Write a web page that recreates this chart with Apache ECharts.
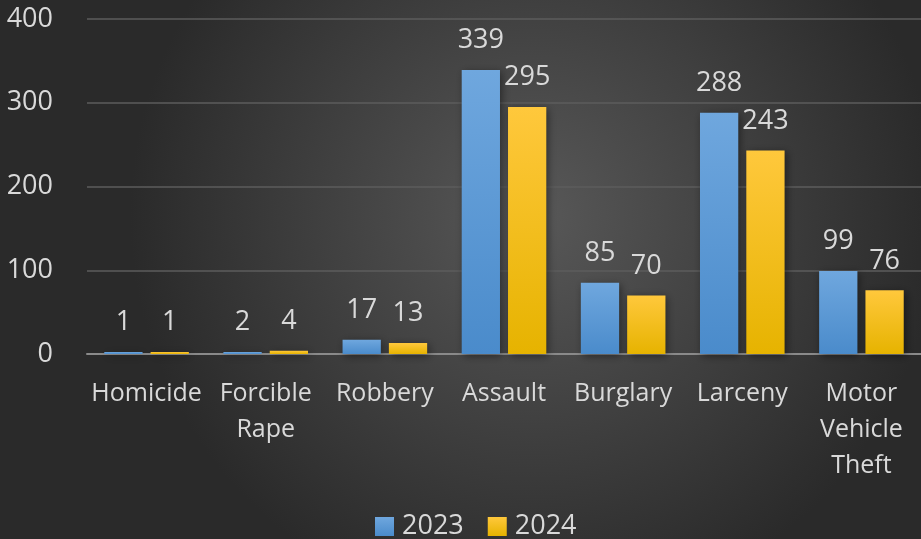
<!DOCTYPE html>
<html>
<head>
<meta charset="utf-8">
<script src="https://cdn.jsdelivr.net/npm/echarts@6/dist/echarts.min.js"></script>
<style>
html,body{margin:0;padding:0;}
#main{width:921px;height:539px;}
</style>
</head>
<body>
<div id="main"></div>
<script>
const categories = ['Homicide', 'Forcible\nRape', 'Robbery', 'Assault', 'Burglary', 'Larceny', 'Motor\nVehicle\nTheft']
const values2023 = [1, 2, 17, 339, 85, 288, 99]
const values2024 = [1, 4, 13, 295, 70, 243, 76]
const yTicks = [0, 100, 200, 300, 400]

const font = '"Open Sans", "Noto Sans", sans-serif'
const textColor = '#d9d9d9'
const fs = 25     // category text
const numFs = 27  // numbers

function grad(top, bottom) {
    return new echarts.graphic.LinearGradient(0, 0, 0, 1, [
        {offset: 0, color: top},
        {offset: 1, color: bottom}
    ])
}

const chart = echarts.init(document.getElementById('main'))
const labelStyle = {
    show: true,
    position: 'top',
    distance: 16,
    color: textColor,
    fontSize: numFs,
    fontFamily: font
}
chart.setOption({
    backgroundColor: {
        type: 'radial', x: 0.58, y: 0.4, r: 0.75,
        colorStops: [
            {offset: 0, color: '#585858'},
            {offset: 1, color: '#2a2a2a'}
        ]
    },
    animation: false,
    grid: {left: 87, right: -7, top: 19, bottom: 185},
    legend: {
        bottom: -6,
        left: 370,
        icon: 'rect',
        itemWidth: 19,
        itemHeight: 19,
        itemGap: 24,
        textStyle: {color: textColor, fontSize: numFs, fontFamily: font, padding: [0, 0, 0, 3]},
        data: ['2023', '2024']
    },
    xAxis: {
        type: 'category',
        data: categories,
        axisTick: {show: false},
        axisLine: {lineStyle: {color: '#8a8a8a', width: 2}},
        axisLabel: {
            color: textColor, fontSize: fs, fontFamily: font,
            lineHeight: 36, margin: 22, interval: 0
        }
    },
    yAxis: {
        type: 'value',
        min: yTicks[0],
        max: yTicks[yTicks.length - 1],
        interval: 100,
        axisLine: {show: false},
        axisTick: {show: false},
        splitLine: {lineStyle: {color: '#5c5c5c', width: 1.5}},
        axisLabel: {color: textColor, fontSize: numFs, fontFamily: font, margin: 34}
    },
    series: [
        {
            name: '2023',
            type: 'bar',
            data: values2023,
            barGap: '21%',
            barCategoryGap: '29%',
            barMinHeight: 2,
            itemStyle: {
                color: grad('#6fa7de', '#4a8bcb'),
                shadowColor: 'rgba(0,0,0,0.45)',
                shadowBlur: 8,
                shadowOffsetX: 2,
                shadowOffsetY: 2
            },
            label: labelStyle
        },
        {
            name: '2024',
            type: 'bar',
            data: values2024,
            barMinHeight: 2,
            itemStyle: {
                color: grad('#ffc83c', '#e6b300'),
                shadowColor: 'rgba(0,0,0,0.45)',
                shadowBlur: 8,
                shadowOffsetX: 2,
                shadowOffsetY: 2
            },
            label: labelStyle
        }
    ]
})
</script>
</body>
</html>
